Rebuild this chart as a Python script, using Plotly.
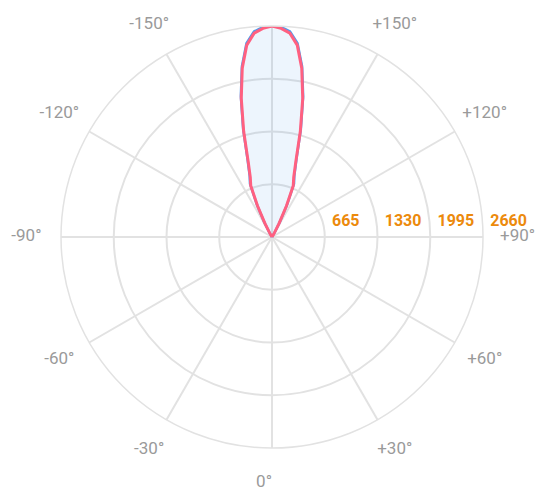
import plotly.graph_objects as go

# ---- data ----
gamma_deg = [0, 30, 60, 90, 120, 140, 145, 147.5, 150, 152.5, 155, 157.5, 160,
             162.5, 165, 167.5, 170, 172.5, 175, 177.5, 180]
intensity_red = [0, 0, 0, 0, 0, 0, 0, 15, 60, 190, 430, 700, 800,
                 1000, 1380, 1790, 2160, 2440, 2580, 2632, 2660]
intensity_blue = [0, 0, 0, 0, 0, 0, 0, 30, 80, 215, 455, 725, 825,
                  1025, 1405, 1815, 2185, 2465, 2600, 2650, 2672]

radial_ticks = [665, 1330, 1995, 2660]
radial_labels = ["665", "1330", "1995", "2660"]
angle_ticks = [0, 30, 60, 90, 120, 150, 180, 210, 240, 270, 300, 330]
angle_labels = ["0°", "+30°", "+60°", "+90°", "+120°", "+150°", "",
                "-150°", "-120°", "-90°", "-60°", "-30°"]

# ---- geometry (pixels in a 536 x 489 figure) ----
W, H = 536, 489
CX, CY = 272, 237          # centre of the polar plot
R_PLOT = 211               # outer ring radius
R_LABEL = 245.6            # centre radius of the angular labels
LBL_RANGE = 1.02           # label polar range max (labels placed at r = 1)
SECTOR = [118, 422]        # label polar omits the empty top gap
R_LBL_PX = R_LABEL * LBL_RANGE
TOP_FRAC = 0.8829          # sin(62 deg): top extent of that sector


def full_curve(vals):
    theta = list(gamma_deg) + [-g for g in reversed(gamma_deg)]
    r = list(vals) + list(reversed(vals))
    return theta, r


fig = go.Figure()

tb, rb = full_curve(intensity_blue)
fig.add_trace(go.Scatterpolar(
    r=rb, theta=tb, mode="lines", fill="toself",
    fillcolor="rgba(54,140,235,0.09)",
    line=dict(color="rgb(80,155,235)", width=2.5),
    cliponaxis=False, hoverinfo="skip"))

tr, rr = full_curve(intensity_red)
fig.add_trace(go.Scatterpolar(
    r=rr, theta=tr, mode="lines",
    line=dict(color="rgb(255,96,128)", width=3),
    cliponaxis=False, hoverinfo="skip"))

# radial tick labels (bold orange, along +90°)
fig.add_trace(go.Scatterpolar(
    r=radial_ticks, theta=[90] * len(radial_ticks), mode="markers+text",
    text=radial_labels, textposition="top right",
    marker=dict(size=10, opacity=0),
    textfont=dict(family="Roboto", size=16, color="#ec8a0c", weight="bold"),
    cliponaxis=False, hoverinfo="skip"))

# angular tick labels, on an overlaid label-only polar subplot
fig.add_trace(go.Scatterpolar(
    r=[1] * len(angle_ticks), theta=angle_ticks, mode="text",
    text=angle_labels,
    textposition=["middle left"] + ["middle center"] * (len(angle_ticks) - 1),
    textfont=dict(family="Roboto", size=17, color="#9a9a9a"),
    cliponaxis=False, hoverinfo="skip", subplot="polar2"))

grid = "#e2e2e2"
fig.update_layout(
    width=W, height=H,
    margin=dict(l=0, r=0, t=0, b=0, autoexpand=False),
    paper_bgcolor="white",
    showlegend=False,
    font=dict(family="Roboto"),
    polar=dict(
        domain=dict(x=[(CX - R_PLOT) / W, (CX + R_PLOT) / W],
                    y=[(H - CY - R_PLOT) / H, (H - CY + R_PLOT) / H]),
        bgcolor="white",
        radialaxis=dict(
            range=[0, 2660], tickvals=radial_ticks, showticklabels=False,
            ticks="", showline=False, gridcolor=grid, gridwidth=1.5),
        angularaxis=dict(
            rotation=-90, direction="counterclockwise",
            tickvals=angle_ticks, showticklabels=False, ticks="",
            gridcolor=grid, gridwidth=1.5,
            showline=True, linecolor=grid, linewidth=1.5),
    ),
    polar2=dict(
        domain=dict(x=[(CX - R_LBL_PX) / W, (CX + R_LBL_PX) / W],
                    y=[(H - CY - R_LBL_PX) / H,
                       (H - CY + R_LBL_PX * TOP_FRAC) / H]),
        sector=SECTOR,
        bgcolor="rgba(0,0,0,0)",
        radialaxis=dict(range=[0, LBL_RANGE], visible=False),
        angularaxis=dict(
            rotation=-90, direction="counterclockwise",
            showticklabels=False, ticks="", showgrid=False, showline=False),
    ),
)

fig.write_html("out.html", config={"displayModeBar": False},
               post_script="document.body.style.margin='0';")
